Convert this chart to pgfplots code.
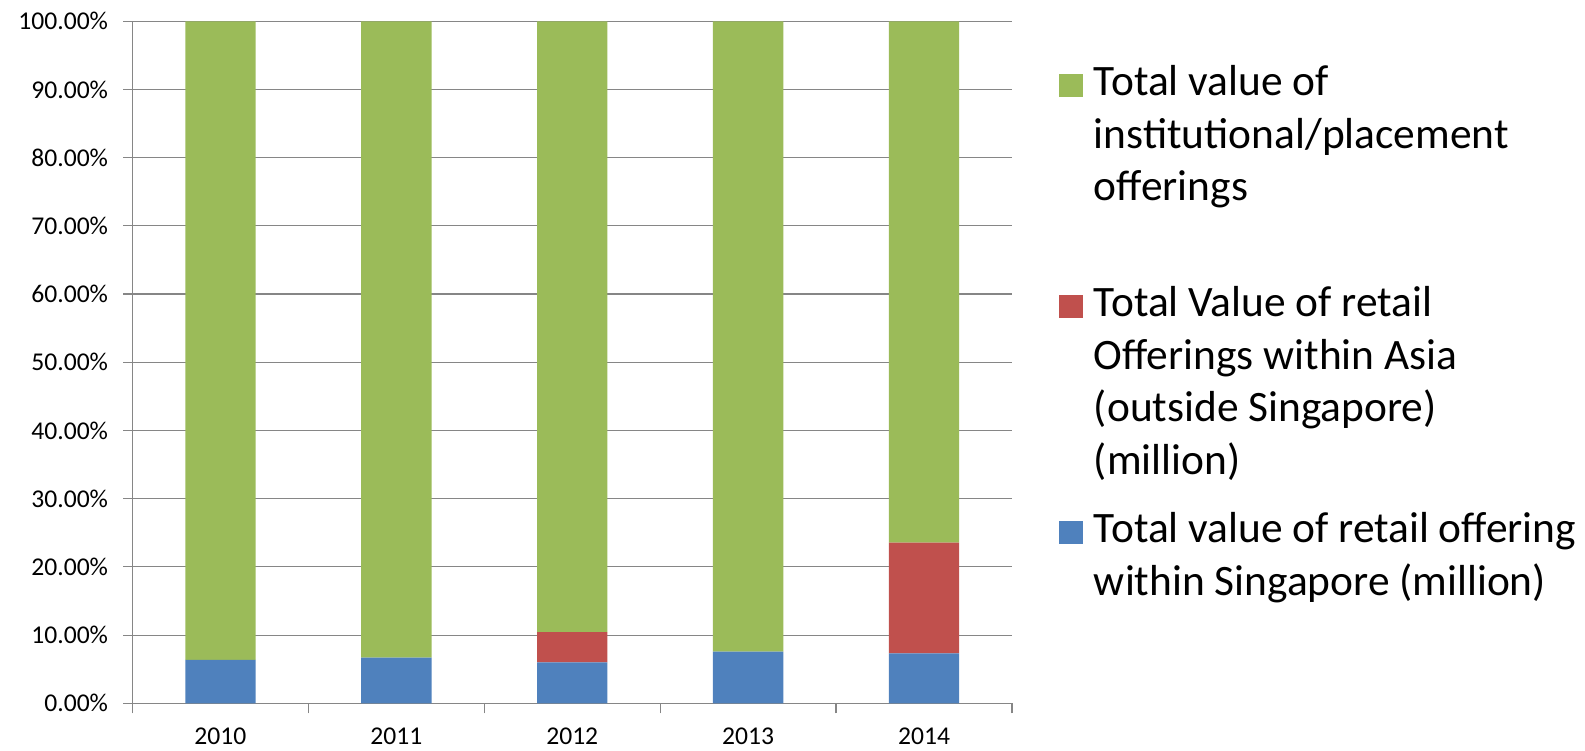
\documentclass[border=0pt]{standalone}
\usepackage{fontspec}
\setmainfont{Carlito}
\usepackage{pgfplots}
\pgfplotsset{compat=1.18}
\definecolor{cblue}{HTML}{4F81BD}
\definecolor{cred}{HTML}{C0504D}
\definecolor{cgreen}{HTML}{9BBB59}
\definecolor{cgrid}{HTML}{868686}
\newcommand{\lentry}[2]{\raisebox{0pt}[#1][0pt]{\parbox[t]{250pt}{\fontsize{21.7}{26.25}\selectfont #2}}}
\begin{document}
\begin{tikzpicture}
\useasboundingbox (0,0) rectangle (792.5pt,375pt);
\begin{axis}[
  at={(66.25pt,23.35pt)}, anchor=south west,
  scale only axis, width=439.75pt, height=341pt,
  ybar stacked, bar width=0.4,
  xmin=-0.5, xmax=4.5, ymin=0, ymax=100,
  xtick={0,1,2,3,4}, xticklabels={2010,2011,2012,2013,2014},
  x tick style={draw=none},
  extra x ticks={-0.5,0.5,1.5,2.5,3.5,4.5}, extra x tick labels={},
  extra x tick style={x tick style={draw=cgrid, line width=0.6pt}, major tick length=5pt, tick align=outside},
  ytick={0,10,...,100},
  yticklabel={\pgfmathprintnumber[fixed,fixed zerofill,precision=2]{\tick}\%},
  /pgf/number format/assume math mode=true,
  tick align=outside, major tick length=4.5pt,
  y tick style={draw=cgrid, line width=0.6pt},
  ymajorgrids, grid style={draw=cgrid, line width=0.6pt},
  axis x line*=bottom, axis y line*=left,
  axis line style={draw=cgrid, line width=0.6pt, -},
  tick label style={font=\fontsize{12.8}{15}\selectfont, text=black},
  yticklabel style={xshift=-4.2pt},
  xticklabel style={yshift=-4.5pt},
  reverse legend,
  legend style={draw=none, fill=none, at={(axis description cs:1,1)}, anchor=north west,
    xshift=23.5pt, yshift=2.7pt, inner sep=0pt, outer sep=0pt, row sep=0pt,
    nodes={inner sep=0pt, outer sep=0pt}, cells={anchor=west},
    /tikz/every odd column/.append style={column sep=5.5pt}},
]
\addplot[fill=cblue, draw=none,
  legend image code/.code={\fill[cblue] (0pt,-55.75pt) rectangle (12pt,-44.05pt);}]
  coordinates {(0,6.35) (1,6.69) (2,6.0) (3,7.57) (4,7.33)};
\addlegendentry{\lentry{111.5pt}{Total value of retail offering\\within Singapore (million)}}
\addplot[fill=cred, draw=none,
  legend image code/.code={\fill[cred] (0pt,-54.5pt) rectangle (12pt,-42.8pt);}]
  coordinates {(0,0) (1,0) (2,4.45) (3,0) (4,16.22)};
\addlegendentry{\lentry{109pt}{Total Value of retail\\Offerings within Asia\\(outside Singapore)\\(million)}}
\addplot[fill=cgreen, draw=none,
  legend image code/.code={\fill[cgreen] (0pt,-20pt) rectangle (12pt,-8.3pt);}]
  coordinates {(0,93.65) (1,93.31) (2,89.55) (3,92.43) (4,76.45)};
\addlegendentry{\lentry{40pt}{Total value of\\institutional/placement\\offerings}}
\end{axis}
\end{tikzpicture}
\end{document}
